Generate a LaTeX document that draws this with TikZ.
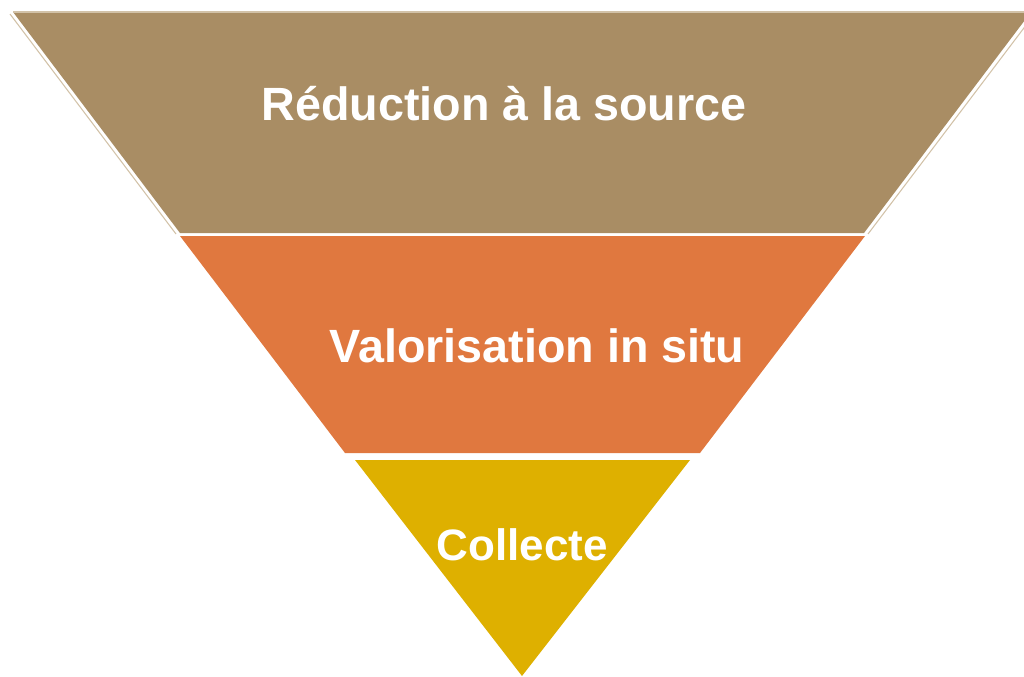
\documentclass[tikz,border=0pt]{standalone}
\usepackage{fontspec}
\setmainfont{Liberation Sans}
\definecolor{tanband}{HTML}{A98D64}
\definecolor{tanline}{HTML}{D2C2A8}
\definecolor{orangeband}{HTML}{E0783F}
\definecolor{goldband}{HTML}{DEB000}
\begin{document}
\begin{tikzpicture}[x = 0.75pt, y = -0.75pt,
  label/.style = {anchor = base, text = white, font = \fontsize{35}{40}\selectfont\bfseries, inner sep = 0pt}]
\useasboundingbox (0,0) rectangle (1024,676);
\clip (0,0) rectangle (1024,676);
% bands of the funnel
\fill[tanband] (13,12) -- (1031,12) -- (864,233) -- (180,233) -- cycle;
\draw[tanline, line width = 0.8pt] (13,12) -- (1031,12);
\draw[tanline, line width = 0.8pt] (10,14) -- (176,234);
\draw[tanline, line width = 0.8pt] (868,234) -- (1036,12);
\fill[orangeband] (180,236) -- (865,236) -- (700,453) -- (345,453) -- cycle;
\fill[goldband] (355,460) -- (690,460) -- (522,676) -- cycle;
% labels
\node[label] (source) at (504,120) {Réduction à la source};
\node[label] (situ) at (537,362) {Valorisation in situ};
\node[label, font = \fontsize{33}{38}\selectfont\bfseries] (collecte) at (522,560) {Collecte};
\end{tikzpicture}
\end{document}
